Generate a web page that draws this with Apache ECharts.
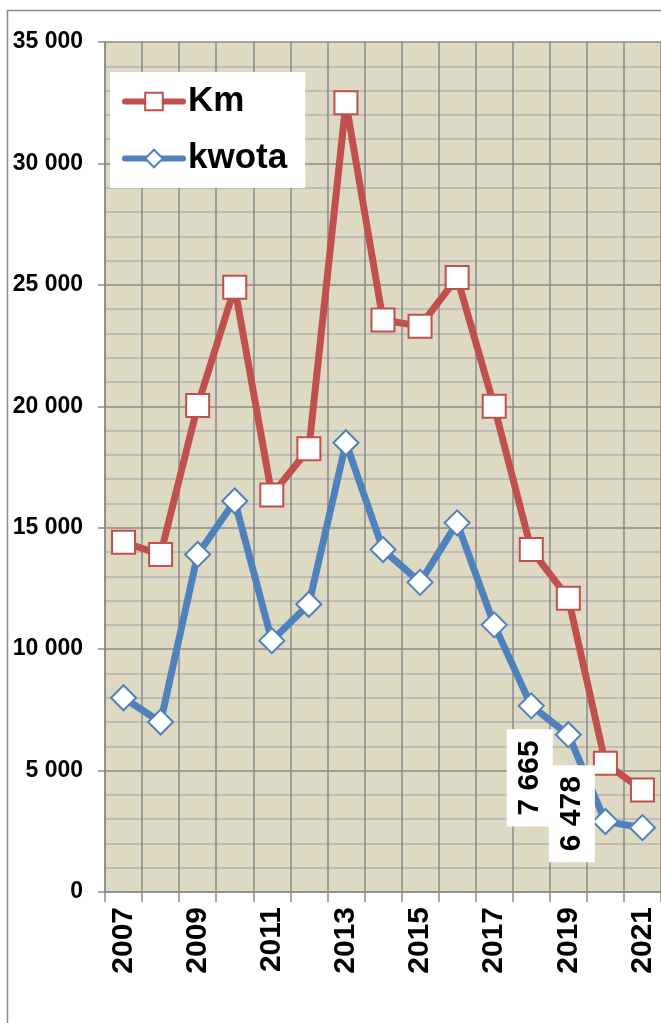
<!DOCTYPE html>
<html>
<head>
<meta charset="utf-8">
<script src="https://cdn.jsdelivr.net/npm/echarts@6/dist/echarts.min.js"></script>
<style>
html,body{margin:0;padding:0;background:#fff;}
#c{width:661px;height:1023px;}
</style>
</head>
<body>
<div id="c"></div>
<script>
const years = ['2007','2008','2009','2010','2011','2012','2013','2014','2015','2016','2017','2018','2019','2020','2021'];
const kmValues = [14400, 13900, 20030, 24900, 16350, 18250, 32500, 23550, 23300, 25300, 20000, 14100, 12100, 5300, 4200];
const kwotaValues = [8000, 7000, 13900, 16100, 10350, 11850, 18500, 14100, 12750, 15200, 11000, 7665, 6478, 2900, 2650];
const yTicks = [0, 5000, 10000, 15000, 20000, 25000, 30000, 35000];
const labeledKwota = [11, 12];

const fmt = v => String(v).replace(/\B(?=(\d{3})+(?!\d))/g, ' ');
const FONT = 'Liberation Sans, Arial, sans-serif';
const RED = '#C0504D', BLUE = '#4F81BD';

const labelPos = { 11: [12, 37], 12: [17, 44] };
const kwotaData = kwotaValues.map((v, i) => {
  if (labeledKwota.indexOf(i) < 0) return v;
  return {
    value: v,
    label: {
      show: true,
      formatter: p => fmt(p.value),
      rotate: 90,
      position: labelPos[i],
      align: 'right',
      verticalAlign: 'middle',
      fontSize: 30,
      fontWeight: 'bold',
      fontFamily: FONT,
      color: '#000',
      backgroundColor: '#fff',
      padding: [6, 11, 6, 11],
      lineHeight: 34
    }
  };
});

const chart = echarts.init(document.getElementById('c'), null, {renderer: 'canvas'});
chart.setOption({
  animation: false,
  backgroundColor: '#fff',
  graphic: [{
    type: 'rect', z: -10, silent: true,
    shape: {x: 7.5, y: 10.5, width: 720, height: 1100},
    style: {fill: 'none', stroke: '#8a8a8a', lineWidth: 1.5}
  }],
  grid: {
    left: 105, top: 42, bottom: 131, right: -6,
    show: true, backgroundColor: '#DDD9C3', borderWidth: 0
  },
  legend: {
    left: 110, top: 72,
    orient: 'vertical',
    backgroundColor: '#fff',
    padding: [12, 18, 12, 12],
    itemWidth: 58, itemHeight: 22, itemGap: 22,
    lineStyle: {width: 6, cap: 'round'},
    textStyle: {fontSize: 35, fontWeight: 'bold', fontFamily: FONT, color: '#000'},
    data: ['Km', 'kwota']
  },
  xAxis: {
    type: 'category',
    data: years,
    boundaryGap: true,
    axisLine: {show: true, lineStyle: {color: '#8a8a8a', width: 1.5}},
    axisTick: {show: true, interval: 0, length: 10, lineStyle: {color: '#8a8a8a', width: 1.5}},
    splitLine: {show: true, interval: 0, lineStyle: {color: '#8a8a8a', width: 1.5}},
    axisLabel: {
      interval: 1, rotate: 90, margin: 15,
      fontSize: 30, fontWeight: 'bold', fontFamily: FONT, color: '#000'
    }
  },
  yAxis: {
    type: 'value',
    min: yTicks[0], max: yTicks[yTicks.length - 1], interval: 5000,
    axisLine: {show: true, lineStyle: {color: '#8a8a8a', width: 1.5}},
    axisTick: {show: true, length: 7, lineStyle: {color: '#8a8a8a', width: 1.5}},
    splitLine: {show: true, lineStyle: {color: '#8a8a8a', width: 1.5}},
    minorTick: {show: false, splitNumber: 5},
    minorSplitLine: {show: true, lineStyle: {color: '#b3b3b3', width: 1.5}},
    axisLabel: {
      margin: 22, formatter: v => fmt(v),
      fontSize: 23, fontWeight: 'bold', fontFamily: FONT, color: '#000'
    }
  },
  series: [{
    name: 'Km',
    type: 'line',
    data: kmValues,
    symbol: 'rect', symbolSize: 23,
    showAllSymbol: true,
    lineStyle: {color: RED, width: 7},
    itemStyle: {color: '#fff', borderColor: RED, borderWidth: 2},
    z: 3
  }, {
    name: 'kwota',
    type: 'line',
    data: kwotaData,
    symbol: 'diamond', symbolSize: 25,
    showAllSymbol: true,
    lineStyle: {color: BLUE, width: 7},
    itemStyle: {color: '#fff', borderColor: BLUE, borderWidth: 2},
    z: 4
  }]
});
</script>
</body>
</html>
